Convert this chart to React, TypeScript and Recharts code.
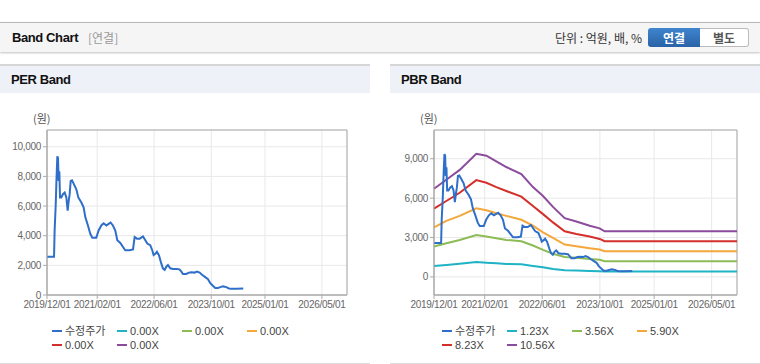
import React from "react";
import { LineChart, Line, XAxis, YAxis, CartesianGrid, ReferenceArea } from "recharts";

// 수정주가 (adjusted price)
const priceDates = [
  "2019-12-01", "2020-01-30", "2020-02-04", "2020-02-13", "2020-02-19", "2020-02-27", "2020-03-04", "2020-03-09",
  "2020-03-15", "2020-03-21", "2020-04-01", "2020-04-15", "2020-04-30", "2020-05-14", "2020-05-25", "2020-06-03",
  "2020-06-11", "2020-06-20", "2020-07-01", "2020-07-15", "2020-08-07", "2020-08-24", "2020-09-19", "2020-10-08",
  "2020-10-23", "2020-11-14", "2020-12-04", "2020-12-21", "2021-01-24", "2021-02-13", "2021-03-08", "2021-03-28",
  "2021-04-20", "2021-05-09", "2021-05-26", "2021-06-15", "2021-07-05", "2021-07-22", "2021-08-17", "2021-09-09",
  "2021-09-28", "2021-11-04", "2021-12-03", "2021-12-17", "2022-01-06", "2022-01-29", "2022-02-26", "2022-03-18",
  "2022-04-04", "2022-04-29", "2022-05-16", "2022-05-28", "2022-06-14", "2022-06-25", "2022-07-12", "2022-08-01",
  "2022-08-15", "2022-08-30", "2022-09-13", "2022-09-27", "2022-10-17", "2022-11-09", "2022-12-07", "2023-01-04",
  "2023-01-19", "2023-02-02", "2023-03-02", "2023-03-25", "2023-04-14", "2023-05-12", "2023-06-01", "2023-06-24",
  "2023-07-14", "2023-08-05", "2023-09-03", "2023-09-23", "2023-10-15", "2023-11-04", "2023-11-27", "2023-12-17",
  "2024-01-09", "2024-02-06", "2024-02-29", "2024-03-20", "2024-05-01", "2024-06-30",
];
const priceValues = [
  2580, 2580, 4350, 6020, 7580, 9350, 9240, 7690,
  8350, 6580, 6580, 6800, 6910, 6580, 5690, 6350,
  6800, 7690, 7730, 7510, 7130, 6580, 6240, 5910,
  5240, 4690, 4130, 3870, 3870, 4350, 4690, 4840,
  4690, 4800, 4890, 4690, 4350, 3690, 3510, 3240,
  3020, 3020, 3070, 3910, 3800, 3800, 3950, 3690,
  3470, 3360, 3020, 2690, 2800, 2910, 2690, 2130,
  1800, 1690, 1910, 2020, 1800, 1760, 1760, 1730,
  1580, 1420, 1420, 1510, 1530, 1510, 1580, 1510,
  1360, 1240, 1070, 800, 620, 470, 470, 530,
  580, 530, 440, 420, 420, 440,
];

// PBR band lines
const bandDates = [
  "2019-12-01", "2020-03-14", "2020-07-05", "2020-11-22", "2021-02-15", "2021-05-10", "2021-08-02", "2021-12-07",
  "2022-03-15", "2022-06-08", "2022-08-31", "2022-12-08", "2023-03-16", "2023-07-07", "2023-09-29", "2023-11-10",
  "2026-12-01",
];
const band123 = [830, 905, 1005, 1130, 1080, 1030, 980, 955, 830, 730, 600, 500, 480, 450, 430, 410, 410];
const band356 = [2310, 2560, 2815, 3190, 3070, 2940, 2815, 2715, 2390, 2060, 1760, 1510, 1460, 1360, 1310, 1190, 1190];
const band590 = [3770, 4270, 4650, 5230, 5080, 4850, 4650, 4350, 3900, 3390, 2970, 2460, 2340, 2190, 2090, 1960, 1960];
const band823 = [5200, 5780, 6410, 7370, 7170, 6840, 6540, 6110, 5400, 4780, 4150, 3470, 3270, 3070, 2890, 2715, 2715];
const band1056 = [6710, 7400, 8150, 9380, 9230, 8800, 8370, 7840, 6840, 6160, 5330, 4475, 4220, 3900, 3700, 3470, 3470];

const xStart = "2019-12-01";
const xEnd = "2026-12-01";
const xTicks = ["2019-12-01", "2021-02-01", "2022-06-01", "2023-10-01", "2025-01-01", "2026-05-01"];
const perTicks = [0, 2000, 4000, 6000, 8000, 10000];
const pbrTicks = [0, 3000, 6000, 9000];

const perLegend = ["수정주가", "0.00X", "0.00X", "0.00X", "0.00X", "0.00X"];
const pbrLegend = ["수정주가", "1.23X", "3.56X", "5.90X", "8.23X", "10.56X"];
const seriesColors = ["#2f6fc9", "#1fb3c6", "#8dbb55", "#f4a73a", "#d42f2a", "#8c4c9c"];

const FONT = '"Liberation Sans", Arial, "Noto Sans CJK KR", sans-serif';
const KFONT = '"Noto Sans CJK KR", "Liberation Sans", sans-serif';

const toT = (d: string) => Date.parse(d + "T00:00:00Z");
const fmtDate = (t: number) => {
  const d = new Date(t);
  const mm = String(d.getUTCMonth() + 1).padStart(2, "0");
  const dd = String(d.getUTCDate()).padStart(2, "0");
  return `${d.getUTCFullYear()}/${mm}/${dd}`;
};
const fmtNum = (v: number) => v.toLocaleString("en-US");

const bandSeries = [band123, band356, band590, band823, band1056];

function buildTable(withBands: boolean) {
  const rows = new Map<number, any>();
  priceDates.forEach((d, i) => {
    const t = toT(d);
    rows.set(t, { ...(rows.get(t) || { t }), price: priceValues[i] });
  });
  if (withBands) {
    bandDates.forEach((d, i) => {
      const t = toT(d);
      const row = { ...(rows.get(t) || { t }) };
      bandSeries.forEach((s, k) => (row["b" + k] = s[i]));
      rows.set(t, row);
    });
  }
  return [...rows.values()].sort((a, b) => a.t - b.t);
}

type PanelProps = {
  title: string;
  left: number;
  yTicks: number[];
  yDomain: [number, number];
  yWidth: number;
  withBands: boolean;
  legend: string[];
  legendX: number;
};

function Panel({ title, left, yTicks, yDomain, yWidth, withBands, legend, legendX }: PanelProps) {
  const data = buildTable(withBands);
  const x0 = toT(xStart);
  const x1 = toT(xEnd);
  const tickStyle = { fill: "#666", fontSize: 10, fontFamily: FONT, letterSpacing: -0.3 };
  return (
    <div style={{ position: "absolute", left, top: 64, width: 370, height: 297, borderTop: "2px solid #d6d6d6", borderBottom: "1px solid #dcdcdc", background: "#fff" }}>
      <div style={{ height: 27, background: "#eef2f8", fontFamily: FONT, fontWeight: 700, fontSize: 13, letterSpacing: -0.4, lineHeight: "27px", paddingLeft: 11, color: "#111" }}>
        {title}
      </div>
      <div style={{ position: "absolute", left: left === 0 ? 33 : 30, top: 46, fontFamily: KFONT, fontSize: 11, lineHeight: "13px", color: "#555" }}>(원)</div>
      <div style={{ position: "absolute", left: 0, top: 27 }}>
        <LineChart width={370} height={230} data={data} margin={{ top: 37, right: 23, bottom: 8, left: 0 }}>
          <CartesianGrid stroke="#e8e8e8" />
          <XAxis
            dataKey="t"
            type="number"
            domain={[x0, x1]}
            ticks={xTicks.map(toT)}
            interval={0}
            tickFormatter={fmtDate}
            height={20}
            tick={tickStyle}
            tickSize={4}
            tickLine={{ stroke: "#aaa" }}
            axisLine={{ stroke: "#aaa" }}
          />
          <YAxis
            type="number"
            domain={yDomain}
            ticks={yTicks}
            interval={0}
            tickFormatter={fmtNum}
            width={yWidth}
            tick={tickStyle}
            tickSize={4}
            tickLine={{ stroke: "#aaa" }}
            axisLine={{ stroke: "#aaa" }}
          />
          <ReferenceArea x1={x0} x2={x1} y1={yDomain[0]} y2={yDomain[1]} fill="none" stroke="#aaa" strokeWidth={1} />
          {withBands &&
            bandSeries.map((_, k) => (
              <Line key={k} dataKey={"b" + k} type="linear" stroke={seriesColors[k + 1]} strokeWidth={2} dot={false} connectNulls isAnimationActive={false} />
            ))}
          <Line dataKey="price" type="linear" stroke={seriesColors[0]} strokeWidth={2} dot={false} connectNulls isAnimationActive={false} />
        </LineChart>
      </div>
      {legend.map((name, i) => (
        <div
          key={i}
          style={{ position: "absolute", left: legendX + (i % 4) * 65, top: 259 + Math.floor(i / 4) * 13.5, height: 12, lineHeight: "12px", display: "flex", alignItems: "center", fontFamily: FONT, fontSize: 11, color: "#444", whiteSpace: "nowrap" }}
        >
          <span style={{ display: "inline-block", width: 10, height: 2, background: seriesColors[i], marginRight: 3 }} />
          {name}
        </div>
      ))}
    </div>
  );
}

export default function App() {
  return (
    <div style={{ position: "absolute", left: 0, top: 0, width: 760, height: 364, background: "#fff", overflow: "hidden" }}>
      <div style={{ position: "absolute", left: 0, top: 22, width: 760, height: 29, borderTop: "1px solid #b9b9b9", background: "#f5f5f5", boxShadow: "0 1px 2px rgba(0,0,0,0.25)" }}>
        <span style={{ position: "absolute", left: 12, top: 0, lineHeight: "29px", fontFamily: FONT, fontWeight: 700, fontSize: 13, letterSpacing: -0.4, color: "#111" }}>Band Chart</span>
        <span style={{ position: "absolute", left: 88, top: 0, lineHeight: "29px", fontFamily: KFONT, fontSize: 12, color: "#999" }}>[연결]</span>
        <span style={{ position: "absolute", right: 118, top: 0, lineHeight: "29px", fontFamily: KFONT, fontSize: 12, color: "#333" }}>단위 : 억원, 배, %</span>
        <div style={{ position: "absolute", left: 648, top: 5, width: 52, height: 19, borderRadius: "3px 0 0 3px", background: "linear-gradient(#3f85cf, #2a62a6)", color: "#fff", fontFamily: KFONT, fontWeight: 700, fontSize: 12, lineHeight: "19px", textAlign: "center" }}>연결</div>
        <div style={{ position: "absolute", left: 700, top: 5, width: 48, height: 17, border: "1px solid #bbb", borderLeft: "none", borderRadius: "0 3px 3px 0", background: "#fff", color: "#555", fontFamily: KFONT, fontWeight: 700, fontSize: 12, lineHeight: "17px", textAlign: "center" }}>별도</div>
      </div>
      <Panel title="PER Band" left={0} yTicks={perTicks} yDomain={[0, 11130]} yWidth={47} withBands={false} legend={perLegend} legendX={52} />
      <Panel title="PBR Band" left={390} yTicks={pbrTicks} yDomain={[-1380, 11190]} yWidth={44} withBands={true} legend={pbrLegend} legendX={52} />
    </div>
  );
}
